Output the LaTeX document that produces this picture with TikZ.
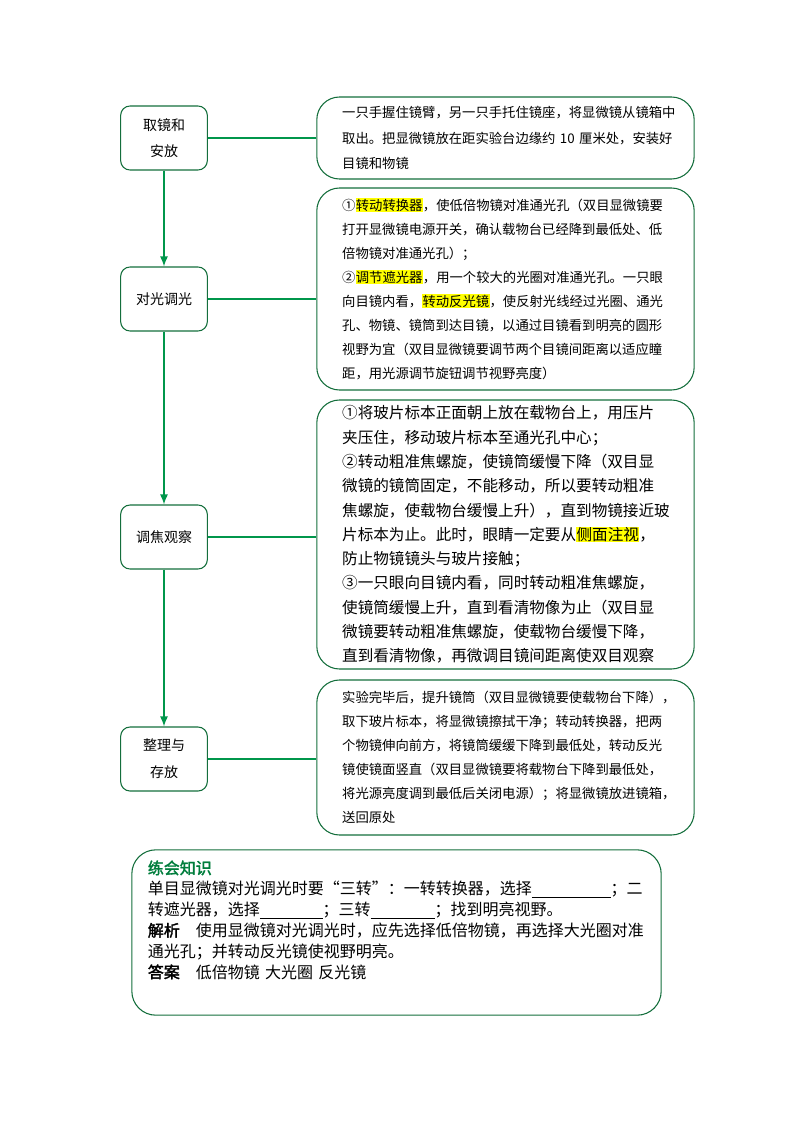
\documentclass[tikz,border=0pt]{standalone}
\usepackage{fontspec}
\setmainfont[AutoFakeBold=2]{Noto Sans CJK SC}
\usepackage[svgnames]{xcolor}
\usepackage{tikz}
\usetikzlibrary{arrows.meta}
\definecolor{FlowGreen}{RGB}{0,150,75}
\definecolor{BoxGreen}{RGB}{20,110,60}
\definecolor{TitleGreen}{RGB}{0,125,60}
\newcommand{\hlt}[1]{{\setlength{\fboxsep}{0.3pt}\colorbox{Yellow}{#1}}}
\newcommand{\blank}[1]{\rule[-2pt]{#1}{0.5pt}}

\begin{document}
\begin{tikzpicture}[x=0.75pt, y=-0.75pt, color=BoxGreen, line width=0.8pt,
      every node/.append style={text=black, inner sep=0pt},
      flow/.style={-{Latex[length=7.5pt,width=6pt]}, draw=FlowGreen, line width=1.1pt},
      link/.style={draw=FlowGreen, line width=1.1pt}]
  \tikzstyle{stage} = [draw=BoxGreen, rounded corners=7pt, minimum width=65pt, minimum height=48pt, align=center, font=\fontsize{10.5pt}{20pt}\selectfont]
  \tikzstyle{detail} = [draw=BoxGreen, rounded corners=17pt, minimum width=283pt, text width=245pt, inner xsep=19pt, align=left, font=\fontsize{10pt}{18pt}\selectfont]
  \useasboundingbox (0,0) rectangle (794,1123);

  \node (qujing) [stage] at (164,138) {取镜和\\安放};
  \node (duiguang) [stage] at (164,299) {对光调光};
  \node (tiaojiao) [stage] at (164,537) {调焦观察};
  \node (zhengli) [stage] at (164,759) {整理与\\存放};

  \node (qujingtext) [detail, minimum height=61.5pt, font=\fontsize{10pt}{19pt}\selectfont] at (505.5,138) {一只手握住镜臂，另一只手托住镜座，将显微镜从镜箱中\\
    取出。把显微镜放在距实验台边缘约~10~厘米处，安装好\\
    目镜和物镜};
  \node (duiguangtext) [detail, minimum height=151.5pt] at (505.5,289) {①\hlt{转动转换器}，使低倍物镜对准通光孔（双目显微镜要\\
    打开显微镜电源开关，确认载物台已经降到最低处、低\\
    倍物镜对准通光孔）；\\
    ②\hlt{调节遮光器}，用一个较大的光圈对准通光孔。一只眼\\
    向目镜内看，\hlt{转动反光镜}，使反射光线经过光圈、通光\\
    孔、物镜、镜筒到达目镜，以通过目镜看到明亮的圆形\\
    视野为宜（双目显微镜要调节两个目镜间距离以适应瞳\\
    距，用光源调节旋钮调节视野亮度）};
  \node (tiaojiaotext) [detail, minimum height=201.75pt, font=\fontsize{11.7pt}{18.2pt}\selectfont] at (505.5,534.5) {①将玻片标本正面朝上放在载物台上，用压片\\
    夹压住，移动玻片标本至通光孔中心；\\
    ②转动粗准焦螺旋，使镜筒缓慢下降（双目显\\
    微镜的镜筒固定，不能移动，所以要转动粗准\\
    焦螺旋，使载物台缓慢上升），直到物镜接近玻\\
    片标本为止。此时，眼睛一定要从\hlt{侧面注视}，\\
    防止物镜镜头与玻片接触；\\
    ③一只眼向目镜内看，同时转动粗准焦螺旋，\\
    使镜筒缓慢上升，直到看清物像为止（双目显\\
    微镜要转动粗准焦螺旋，使载物台缓慢下降，\\
    直到看清物像，再微调目镜间距离使双目观察};
  \node (zhenglitext) [detail, minimum height=116.25pt] at (505.5,757.5) {实验完毕后，提升镜筒（双目显微镜要使载物台下降），\\
    取下玻片标本，将显微镜擦拭干净；转动转换器，把两\\
    个物镜伸向前方，将镜筒缓缓下降到最低处，转动反光\\
    镜使镜面竖直（双目显微镜要将载物台下降到最低处，\\
    将光源亮度调到最低后关闭电源）；将显微镜放进镜箱，\\
    送回原处};

  \node (lianhui) [draw=BoxGreen, rounded corners=18pt, minimum width=397pt, minimum height=124pt] at (396.5,932.5) {};
  \node (lianhuitext) [anchor=north west, text width=385pt, align=left, font=\fontsize{12pt}{15.6pt}\selectfont] at ([xshift=12pt,yshift=-8pt]lianhui.north west) {{\bfseries\color{TitleGreen}练会知识}\\
    单目显微镜对光调光时要“三转”：一转转换器，选择\blank{59pt}；二\\
    转遮光器，选择\blank{47pt}；三转\blank{48pt}；找到明亮视野。\\
    {\bfseries 解析}\quad 使用显微镜对光调光时，应先选择低倍物镜，再选择大光圈对准\\
    通光孔；并转动反光镜使视野明亮。\\
    {\bfseries 答案}\quad 低倍物镜 大光圈 反光镜};

  \draw[flow] (qujing.south) -- (duiguang.north);
  \draw[flow] (duiguang.south) -- (tiaojiao.north);
  \draw[flow] (tiaojiao.south) -- (zhengli.north);
  \draw[link] (qujing.east) -- (qujing.east -| qujingtext.west);
  \draw[link] (duiguang.east) -- (duiguang.east -| duiguangtext.west);
  \draw[link] (tiaojiao.east) -- (tiaojiao.east -| tiaojiaotext.west);
  \draw[link] (zhengli.east) -- (zhengli.east -| zhenglitext.west);
\end{tikzpicture}
\end{document}
